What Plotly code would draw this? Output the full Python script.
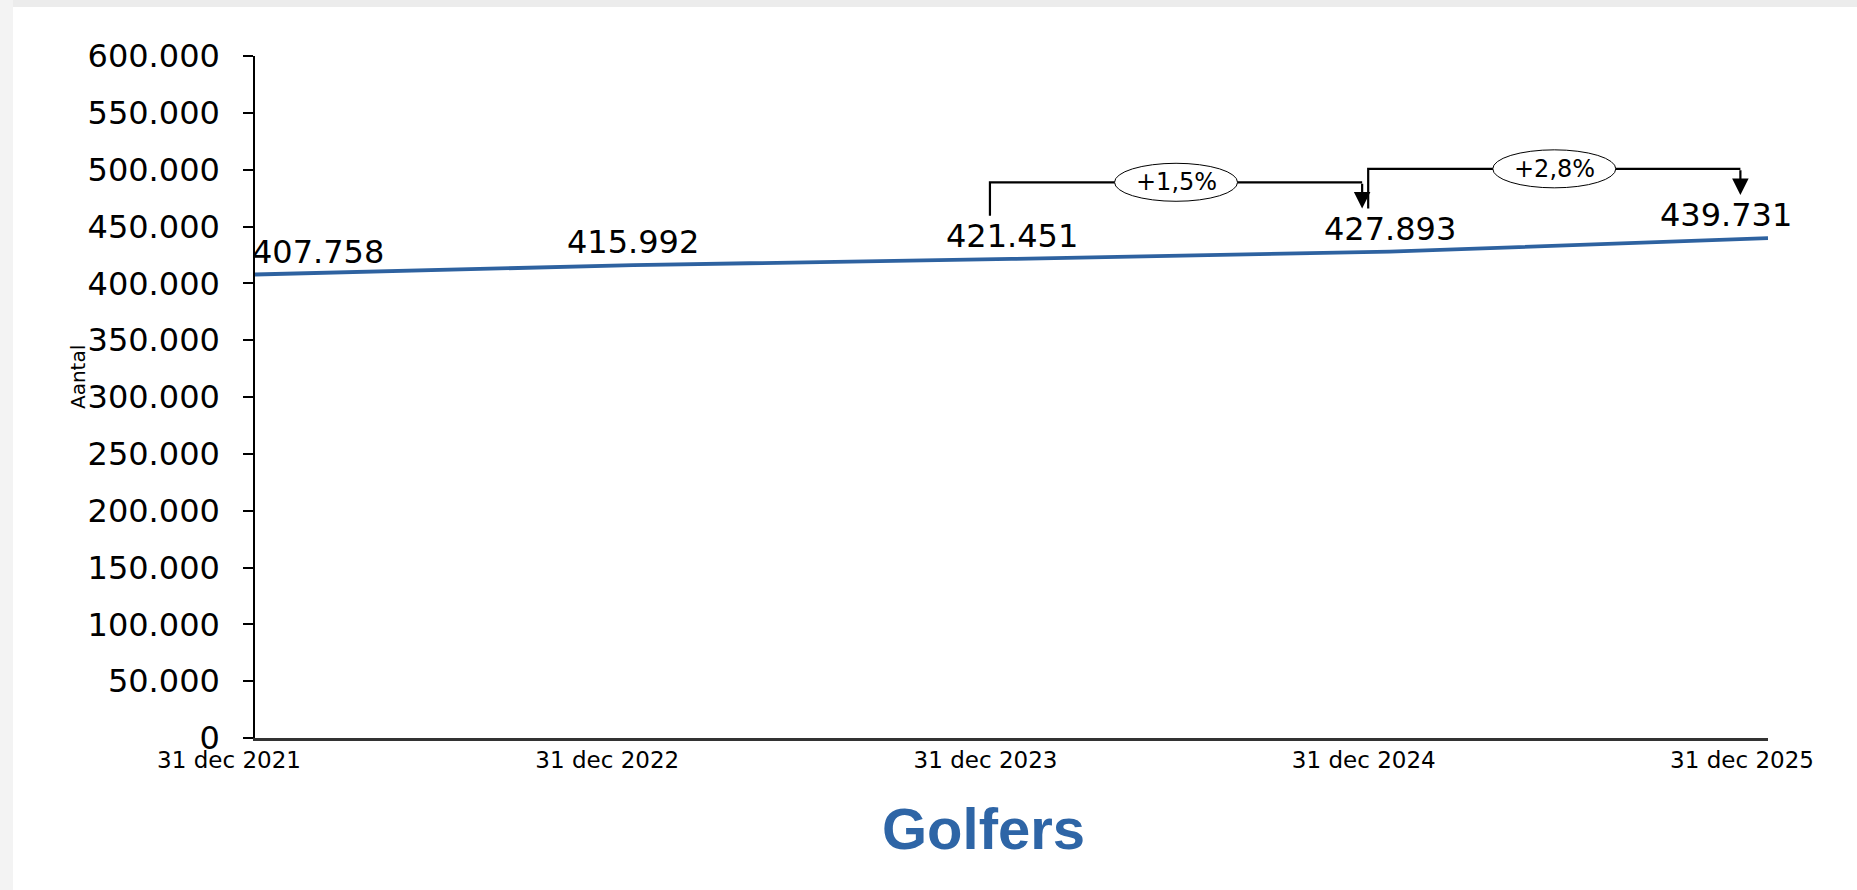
import plotly.graph_objects as go

# data
dates = ["31 dec 2021", "31 dec 2022", "31 dec 2023", "31 dec 2024", "31 dec 2025"]
golfers = [407758, 415992, 421451, 427893, 439731]
compare_pairs = [(2, 3), (3, 4)]
title_text = "Golfers"
y_title = "Aantal"

W, H = 1857, 890
L, R, T, B = 255, 89, 56, 152
PW, PH = W - L - R, H - T - B

BLUE = "#2e62a0"
FONT = "DejaVu Sans"


def px_x(px):
    return (px - L) / PW


def px_y(py):
    return (H - B - py) / PH


def fmt_nl(v):
    return f"{v:,}".replace(",", ".")


def pct_nl(a, b):
    return f"+{(b / a - 1) * 100:.1f}%".replace(".", ",")


x = list(range(len(dates)))

fig = go.Figure()
fig.add_trace(go.Scatter(x=x, y=golfers, mode="lines",
                         line=dict(color=BLUE, width=3.8), hoverinfo="skip"))

annotations = []
shapes = []

# value labels above the line
n = len(golfers)
anchors = ["left"] + ["center"] * (n - 2) + ["right"]
shifts = [-5] + [0] * (n - 2) + [26]
for i, v in enumerate(golfers):
    annotations.append(dict(x=i, y=v, text=fmt_nl(v), showarrow=False,
                            xanchor=anchors[i], xshift=shifts[i],
                            yanchor="middle", yshift=23,
                            font=dict(family=FONT, size=32, color="black")))

# growth brackets
for a, b in compare_pairs:
    top = max(golfers[a], golfers[b]) + 61000
    xl, xr = a - 0.057, b - 0.073
    xm = (xl + xr) / 2
    shapes.append(dict(type="path", xref="x", yref="y",
                       path=f"M {xl},{golfers[a] + 38000} L {xl},{top} L {xr},{top}",
                       line=dict(color="black", width=2.2)))
    annotations.append(dict(x=xr, y=golfers[b] + 38000, ax=xr, ay=top,
                            axref="x", ayref="y", xref="x", yref="y", text="",
                            showarrow=True, arrowhead=2, arrowsize=1.5,
                            arrowwidth=2.2, arrowcolor="black", standoff=0))
    shapes.append(dict(type="circle", xref="x", yref="y",
                       xsizemode="pixel", ysizemode="pixel",
                       xanchor=xm, yanchor=top, x0=-61.5, x1=61.5, y0=-19, y1=19,
                       fillcolor="white", line=dict(color="black", width=1)))
    annotations.append(dict(x=xm, y=top, text=pct_nl(golfers[a], golfers[b]),
                            showarrow=False, xanchor="center", yanchor="middle",
                            font=dict(family=FONT, size=24, color="black")))

# y title and chart title
annotations.append(dict(xref="paper", yref="paper", x=px_x(78), y=px_y(377),
                        text=y_title, textangle=-90, showarrow=False,
                        xanchor="center", yanchor="middle",
                        font=dict(family=FONT, size=20, color="black")))
annotations.append(dict(xref="paper", yref="paper", x=px_x(983), y=px_y(829),
                        text=f"<b>{title_text}</b>", showarrow=False,
                        xanchor="center", yanchor="middle",
                        font=dict(family="Liberation Sans", size=58, color="#2e65a6")))

# page frame (light grey edges)
shapes.append(dict(type="rect", xref="paper", yref="paper", layer="below",
                   x0=px_x(0), x1=px_x(W), y0=px_y(7), y1=px_y(0),
                   fillcolor="#ececec", line=dict(width=0)))
shapes.append(dict(type="rect", xref="paper", yref="paper", layer="below",
                   x0=px_x(0), x1=px_x(13), y0=px_y(H), y1=px_y(0),
                   fillcolor="#f3f3f3", line=dict(width=0)))

fig.update_layout(
    width=W, height=H,
    margin=dict(l=L, r=R, t=T, b=B, pad=0),
    paper_bgcolor="white", plot_bgcolor="white",
    separators=",.",
    showlegend=False,
    annotations=annotations,
    shapes=shapes,
    xaxis=dict(range=[0, len(dates) - 1], tickvals=x, ticktext=dates,
               ticks="", showline=True, linecolor="#333333", linewidth=2.5,
               showgrid=False, zeroline=False, ticklabelshift=-26,
               tickfont=dict(family=FONT, size=23, color="black")),
    yaxis=dict(range=[0, 600000], dtick=50000, tickformat=",d",
               ticks="outside", ticklen=10, tickcolor="black", tickwidth=1.5,
               showline=True, linecolor="black", linewidth=1.5,
               showgrid=False, zeroline=False, ticklabelstandoff=17,
               tickfont=dict(family=FONT, size=32, color="black")),
)

fig.write_html("out.html", config={"displayModeBar": False},
               post_script="document.body.style.margin='0';")
